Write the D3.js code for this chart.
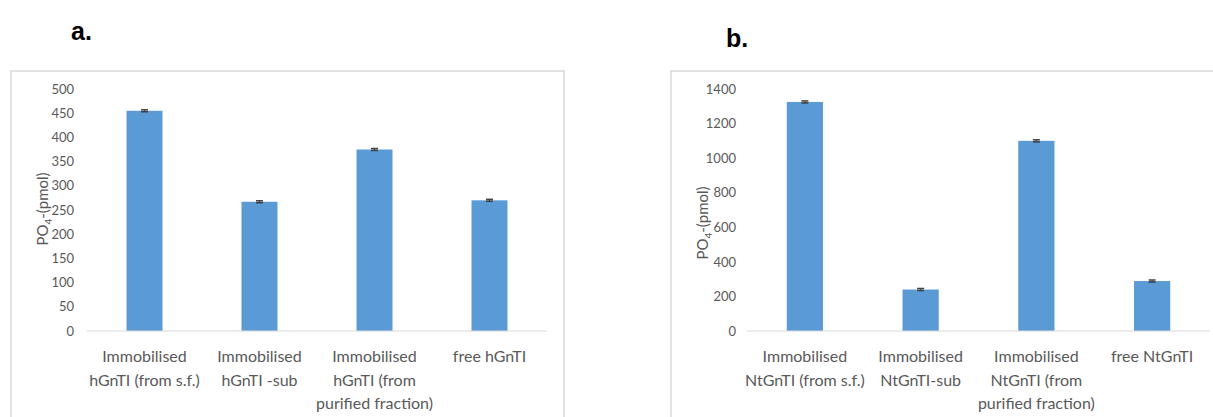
<!DOCTYPE html>
<html>
<head>
<meta charset="utf-8">
<script src="https://cdn.jsdelivr.net/npm/d3@7"></script>
<style>
  body { margin: 0; background: #fff; }
  svg { display: block; }
</style>
</head>
<body>
<div id="chart-area"></div>
<script>
// Data, panel a
const catsA = [
  ["Immobilised", "hGnTI (from s.f.)"],
  ["Immobilised", "hGnTI -sub"],
  ["Immobilised", "hGnTI (from", "purified fraction)"],
  ["free hGnTI"]
];
const valsA = [455, 267, 375, 270];
const errA = [2, 2, 2, 2];
const ticksA = [0, 50, 100, 150, 200, 250, 300, 350, 400, 450, 500];

// Data, panel b
const catsB = [
  ["Immobilised", "NtGnTI (from s.f.)"],
  ["Immobilised", "NtGnTI-sub"],
  ["Immobilised", "NtGnTI (from", "purified fraction)"],
  ["free NtGnTI"]
];
const valsB = [1325, 240, 1100, 289];
const errB = [6, 6, 6, 6];
const ticksB = [0, 200, 400, 600, 800, 1000, 1200, 1400];

const W = 1213, H = 417;
const font = "Lato, 'Open Sans', sans-serif";
const grey = "#595959";

const svg = d3.select("#chart-area")
  .append("svg")
    .attr("width", W)
    .attr("height", H);

// one panel
function drawPanel(opt){
  const g = svg.append("g");

  // frame
  g.append("rect")
    .attr("x", opt.box[0]).attr("y", opt.box[1])
    .attr("width", opt.box[2]).attr("height", opt.box[3])
    .attr("fill", "none")
    .attr("stroke", "#d9d9d9")
    .attr("stroke-width", 1.5);

  // panel letter
  svg.append("text")
    .attr("x", opt.letter[0]).attr("y", opt.letter[1])
    .attr("font-family", "'Liberation Sans', Arial, sans-serif")
    .attr("font-weight", "bold")
    .attr("font-size", "25px")
    .attr("fill", "#000")
    .text(opt.letterText);

  const idx = opt.cats.map((d, i) => i);
  const x = d3.scaleBand()
    .domain(idx)
    .range([opt.x0, opt.x1])
    .paddingInner(0.687)
    .paddingOuter(0.687 / 2);
  const y = d3.scaleLinear()
    .domain([0, opt.max])
    .range([opt.y0, opt.y1]);

  // y tick labels (no axis line)
  const yAxis = d3.axisLeft(y)
    .tickValues(opt.ticks)
    .tickFormat(d3.format("d"))
    .tickSize(0)
    .tickPadding(0);
  const yg = g.append("g")
    .attr("transform", `translate(${opt.labelX},0)`)
    .call(yAxis);
  yg.select(".domain").remove();
  yg.selectAll("text")
    .attr("font-family", font)
    .attr("font-size", "13px")
    .attr("fill", grey);

  // bars
  g.selectAll("rect.bar")
    .data(opt.vals)
    .enter().append("rect")
      .attr("class", "bar")
      .attr("x", (d, i) => x(i))
      .attr("y", d => y(d))
      .attr("width", x.bandwidth())
      .attr("height", d => y(0) - y(d))
      .attr("fill", "#5b9bd5");

  // error bars
  opt.vals.forEach((v, i) => {
    const cx = x(i) + x.bandwidth() / 2;
    const e = opt.errs[i];
    g.append("line")
      .attr("x1", cx).attr("x2", cx)
      .attr("y1", y(v + e)).attr("y2", y(v - e))
      .attr("stroke", "#404040").attr("stroke-width", 1);
    [v + e, v - e].forEach(t => {
      g.append("line")
        .attr("x1", cx - 3.5).attr("x2", cx + 3.5)
        .attr("y1", y(t)).attr("y2", y(t))
        .attr("stroke", "#404040").attr("stroke-width", 1.5);
    });
  });

  // baseline
  g.append("line")
    .attr("x1", opt.x0).attr("x2", opt.x1)
    .attr("y1", y(0)).attr("y2", y(0))
    .attr("stroke", "#d9d9d9")
    .attr("stroke-width", 1);

  // category labels
  opt.cats.forEach((lines, i) => {
    const cx = x(i) + x.bandwidth() / 2;
    const t = g.append("text")
      .attr("text-anchor", "middle")
      .attr("font-family", font)
      .attr("font-size", "16px")
      .attr("fill", grey);
    lines.forEach((l, j) => {
      t.append("tspan")
        .attr("x", cx)
        .attr("y", opt.catY + j * 23.5)
        .text(l);
    });
  });

  // y title
  const yt = g.append("text")
    .attr("transform", `translate(${opt.title[0]},${opt.title[1]}) rotate(-90)`)
    .attr("text-anchor", "middle")
    .attr("font-family", font)
    .attr("font-size", "15px")
    .attr("fill", grey);
  yt.append("tspan").text("PO");
  yt.append("tspan").attr("font-size", "10px").attr("dy", 4).text("4");
  yt.append("tspan").attr("dy", -4).text("-(pmol)");
}

drawPanel({
  box: [11, 71, 553, 380],
  letter: [71, 40], letterText: "a.",
  cats: catsA, vals: valsA, errs: errA, ticks: ticksA, max: 500,
  x0: 87, x1: 547, y0: 331, y1: 89,
  labelX: 74, catY: 362,
  title: [48, 209]
});

drawPanel({
  box: [671, 71, 600, 380],
  letter: [726, 47], letterText: "b.",
  cats: catsB, vals: valsB, errs: errB, ticks: ticksB, max: 1400,
  x0: 747, x1: 1210, y0: 331, y1: 89,
  labelX: 736, catY: 362,
  title: [708, 223]
});
</script>
</body>
</html>
